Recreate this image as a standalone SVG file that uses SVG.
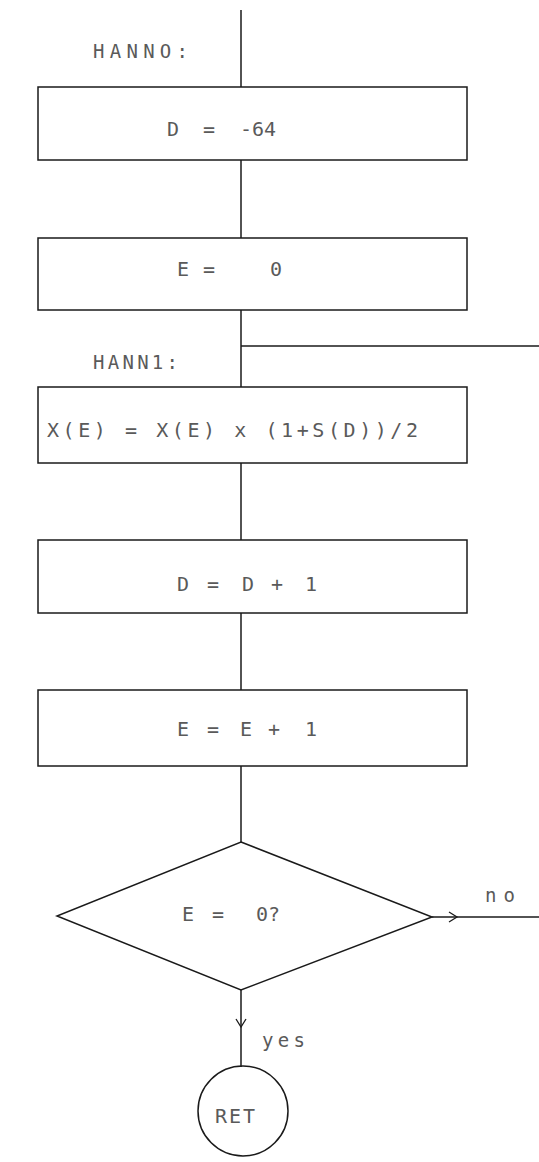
<svg xmlns="http://www.w3.org/2000/svg" width="539" height="1162" viewBox="0 0 539 1162">
<defs>
<style>
.box{fill:none;stroke:#1a1a1a;stroke-width:1.5}
.ln{fill:none;stroke:#1a1a1a;stroke-width:1.5}
.t{font-family:"DejaVu Sans Mono","Liberation Mono",monospace;font-size:20px;fill:#5a5a5a;dominant-baseline:central}
.lbl{font-family:"DejaVu Sans Mono","Liberation Mono",monospace;font-size:19px;fill:#5a5a5a;dominant-baseline:central}
</style>
<marker id="chev" markerWidth="12" markerHeight="12" refX="10" refY="6" orient="auto" markerUnits="userSpaceOnUse">
<polyline points="2,1 10,6 2,11" fill="none" stroke="#1a1a1a" stroke-width="1.3"/>
</marker>
</defs>
<rect width="539" height="1162" fill="#fff"/>
<g id="connectors">
<line class="ln" x1="241" y1="10" x2="241" y2="87"/>
<line class="ln" x1="241" y1="160" x2="241" y2="238"/>
<line class="ln" x1="241" y1="310" x2="241" y2="387"/>
<line class="ln" x1="241" y1="346" x2="539" y2="346"/>
<line class="ln" x1="241" y1="463" x2="241" y2="540"/>
<line class="ln" x1="241" y1="613" x2="241" y2="690"/>
<line class="ln" x1="241" y1="766" x2="241" y2="842"/>
<line class="ln" x1="432" y1="917" x2="457" y2="917" marker-end="url(#chev)"/>
<line class="ln" x1="457" y1="917" x2="539" y2="917"/>
<line class="ln" x1="241" y1="990" x2="241" y2="1027" marker-end="url(#chev)"/>
<line class="ln" x1="241" y1="1027" x2="241" y2="1067"/>
<text class="lbl" x="485" y="895" textLength="30">no</text>
<text class="lbl" x="262" y="1040" textLength="43">yes</text>
</g>
<g id="label-hanno"><text class="lbl" x="93" y="51" textLength="95">HANNO:</text></g>
<g id="label-hann1"><text class="lbl" x="93" y="362" textLength="85">HANN1:</text></g>
<g id="n1"><rect class="box" x="38" y="87" width="429" height="73"/><text class="t" y="129"><tspan x="167">D</tspan><tspan x="203">=</tspan><tspan x="240">-64</tspan></text></g>
<g id="n2"><rect class="box" x="38" y="238" width="429" height="72"/><text class="t" y="269"><tspan x="177">E</tspan><tspan x="203">=</tspan><tspan x="270">0</tspan></text></g>
<g id="n3"><rect class="box" x="38" y="387" width="429" height="76"/><text class="t" x="47" y="430" textLength="371">X(E) = X(E) x (1+S(D))/2</text></g>
<g id="n4"><rect class="box" x="38" y="540" width="429" height="73"/><text class="t" y="584"><tspan x="177">D</tspan><tspan x="207">=</tspan><tspan x="242">D</tspan><tspan x="271">+</tspan><tspan x="305">1</tspan></text></g>
<g id="n5"><rect class="box" x="38" y="690" width="429" height="76"/><text class="t" y="729"><tspan x="177">E</tspan><tspan x="207">=</tspan><tspan x="240">E</tspan><tspan x="268">+</tspan><tspan x="305">1</tspan></text></g>
<g id="d1"><polygon class="box" points="241,842 432,917 241,990 57,916"/><text class="t" y="914"><tspan x="182">E</tspan><tspan x="212">=</tspan><tspan x="256">0?</tspan></text></g>
<g id="c1"><circle class="box" cx="243" cy="1111" r="45"/><text class="t" x="215" y="1116" textLength="40">RET</text></g>
</svg>
